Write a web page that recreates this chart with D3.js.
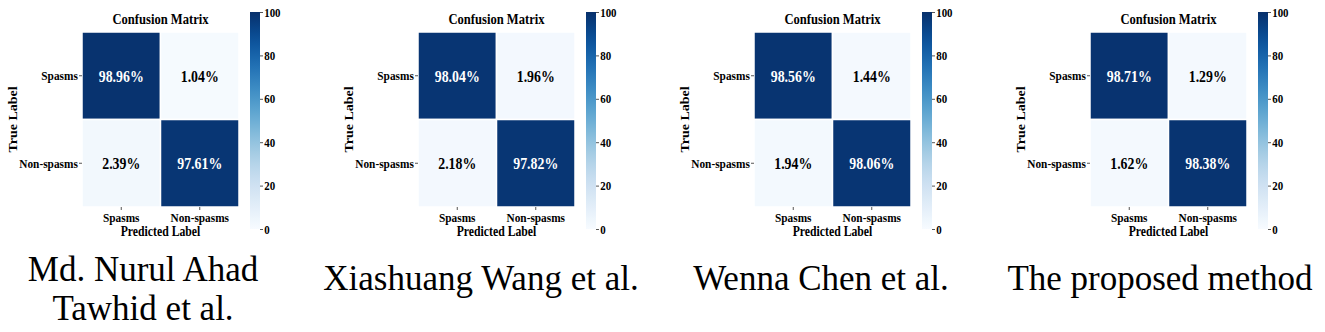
<!DOCTYPE html>
<html lang="en">
<head>
<meta charset="utf-8">
<title>Confusion Matrices</title>
<script src="https://d3js.org/d3.v7.min.js"></script>
<style>
    body { margin: 0; background: #fff; }
    svg text { font-family: "Liberation Serif", "Times New Roman", serif; }
</style>
</head>
<body>
<svg id="chart"></svg>
<script>
    // data
    var classes = ["Spasms", "Non-spasms"];
    var tawhidCm = [[98.96, 1.04], [2.39, 97.61]];
    var wangCm = [[98.04, 1.96], [2.18, 97.82]];
    var chenCm = [[98.56, 1.44], [1.94, 98.06]];
    var proposedCm = [[98.71, 1.29], [1.62, 98.38]];
    var matrices = [tawhidCm, wangCm, chenCm, proposedCm];
    var captions = [["Md. Nurul Ahad", "Tawhid et al."], ["Xiashuang Wang et al."], ["Wenna Chen et al."], ["The proposed method"]];
    var colorTicks = [0, 20, 40, 60, 80, 100];

    // layout
    var width = 1325, height = 332;
    var panelStep = 336, hmLeft = 82, hmTop = 32, hmW = 157, hmH = 175;
    var cbGap = 11, cbW = 10, cbTop = 12, cbBottom = 229;
    var captionX = [143, 481, 821, 1160];
    var squash = 0.84; // the chart figures look horizontally compressed

    var svg = d3.select("#chart")
        .attr("width", width)
        .attr("height", height);

    var color = d3.scaleSequential(d3.interpolateBlues).domain([0, 100]);
    var x = d3.scaleBand().domain(classes).range([0, hmW]);
    var y = d3.scaleBand().domain(classes).range([0, hmH]);
    var cbScale = d3.scaleLinear().domain([0, 100]).range([cbBottom - cbTop, 0]);

    // gradient for the colorbar
    var grad = svg.append("defs").append("linearGradient")
        .attr("id", "blues")
        .attr("x1", 0).attr("y1", 1).attr("x2", 0).attr("y2", 0);
    grad.selectAll("stop")
        .data(d3.range(0, 101, 5))
        .enter().append("stop")
        .attr("offset", function (d) { return d / 100; })
        .attr("stop-color", function (d) { return color(d); });

    function styleAxis(ax, size) {
        ax.select(".domain").remove();
        ax.selectAll("line").attr("stroke", "#555");
        ax.selectAll("text")
            .attr("fill", "#000")
            .attr("transform", "scale(" + squash + ",1)")
            .style("font-family", "'Liberation Serif', serif")
            .style("font-size", size)
            .style("font-weight", "bold");
    }

    matrices.forEach(function (cm, i) {
        var panel = svg.append("g").attr("transform", "translate(" + (i * panelStep) + ",0)");
        var hm = panel.append("g").attr("transform", "translate(" + hmLeft + "," + hmTop + ")");

        var cells = [];
        cm.forEach(function (row, r) {
            row.forEach(function (v, c) {
                cells.push({ r: classes[r], c: classes[c], v: v });
            });
        });

        hm.selectAll("rect")
            .data(cells)
            .enter().append("rect")
            .attr("x", function (d) { return x(d.c); })
            .attr("y", function (d) { return y(d.r); })
            .attr("width", x.bandwidth())
            .attr("height", y.bandwidth())
            .attr("fill", function (d) { return color(d.v); })
            .attr("stroke", "#fff")
            .attr("stroke-width", 1.5);

        hm.selectAll("text.val")
            .data(cells)
            .enter().append("text")
            .attr("class", "val")
            .attr("transform", function (d) {
                return "translate(" + (x(d.c) + x.bandwidth() / 2) + "," + (y(d.r) + y.bandwidth() / 2) + ") scale(" + squash + ",1)";
            })
            .attr("dy", "0.35em")
            .attr("text-anchor", "middle")
            .attr("font-size", "16.5px")
            .attr("font-weight", "bold")
            .attr("fill", function (d) { return d.v > 50 ? "#fff" : "#000"; })
            .text(function (d) { return d.v.toFixed(2) + "%"; });

        var yAxis = hm.append("g")
            .call(d3.axisLeft(y).tickSize(3).tickPadding(2));
        var xAxis = hm.append("g")
            .attr("transform", "translate(0," + hmH + ")")
            .call(d3.axisBottom(x).tickSize(3).tickPadding(2));
        styleAxis(xAxis, "13.5px");
        styleAxis(yAxis, "13.5px");

        hm.append("text")
            .attr("transform", "translate(" + (hmW / 2) + ",-8) scale(" + squash + ",1)")
            .attr("text-anchor", "middle")
            .attr("font-size", "15px")
            .attr("font-weight", "bold")
            .text("Confusion Matrix");

        hm.append("text")
            .attr("transform", "translate(" + (hmW / 2) + "," + (hmH + 29) + ") scale(" + squash + ",1)")
            .attr("text-anchor", "middle")
            .attr("font-size", "14px")
            .attr("font-weight", "bold")
            .text("Predicted Label");

        hm.append("text")
            .attr("transform", "translate(-65," + (hmH / 2) + ") scale(" + squash + ",1) rotate(-90)")
            .attr("text-anchor", "middle")
            .attr("font-size", "14px")
            .attr("font-weight", "bold")
            .text("True Label");

        // colorbar
        var cb = panel.append("g")
            .attr("transform", "translate(" + (hmLeft + hmW + cbGap) + "," + cbTop + ")");
        cb.append("rect")
            .attr("width", cbW)
            .attr("height", cbBottom - cbTop)
            .attr("fill", "url(#blues)");
        var cbAxis = cb.append("g")
            .attr("transform", "translate(" + cbW + ",0)")
            .call(d3.axisRight(cbScale).tickValues(colorTicks).tickSize(3).tickPadding(2));
        styleAxis(cbAxis, "13px");

        // caption under the panel
        var lines = captions[i];
        var baselines = lines.length === 1 ? [290] : [281, 320];
        svg.append("g").selectAll("text")
            .data(lines)
            .enter().append("text")
            .attr("x", captionX[i])
            .attr("y", function (d, k) { return baselines[k]; })
            .attr("text-anchor", "middle")
            .attr("font-size", "35px")
            .attr("fill", "#000")
            .text(function (d) { return d; });
    });
</script>
</body>
</html>
